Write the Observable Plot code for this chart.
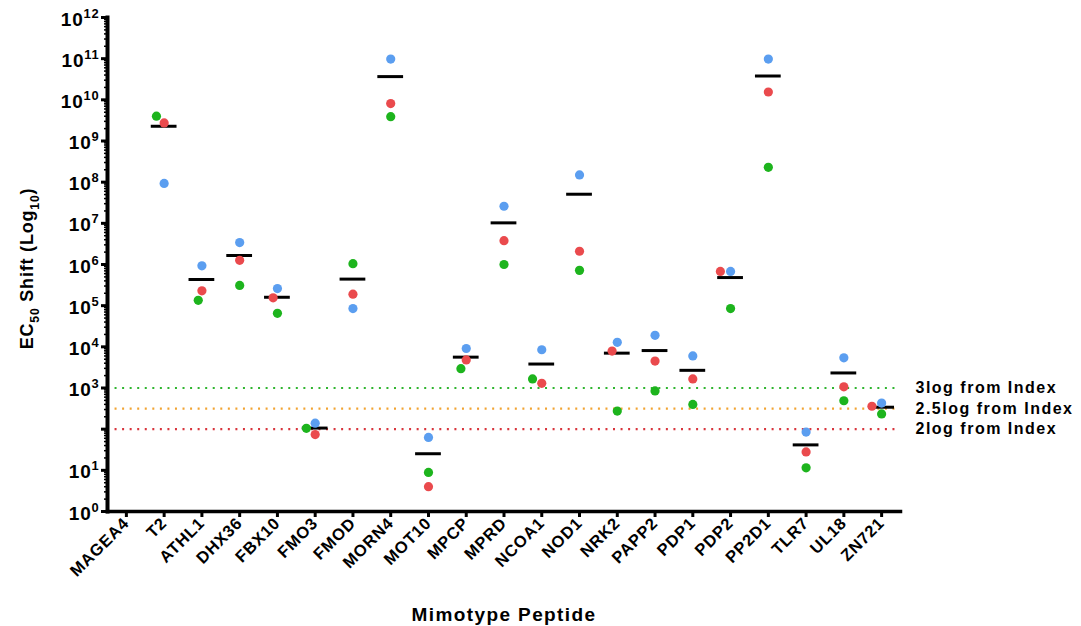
<!DOCTYPE html>
<html><head><meta charset="utf-8">
<script src="https://cdn.jsdelivr.net/npm/d3@7"></script>
<script src="https://cdn.jsdelivr.net/npm/@observablehq/plot@0.6"></script>
<style>
body{margin:0;background:#fff}
#chart svg text{letter-spacing:0.8px}
</style>
</head><body><div id="chart"></div>
<script>
// ---- data ----
const peptides = ["MAGEA4","T2","ATHL1","DHX36","FBX10","FMO3","FMOD","MORN4","MOT10","MPCP","MPRD","NCOA1","NOD1","NRK2","PAPP2","PDP1","PDP2","PP2D1","TLR7","UL18","ZN721"];
const seriesNames = ["Replicate 1","Replicate 2","Replicate 3"];
const blueValues  = [null, 9.3e7, 9.3e5, 3.4e6, 2.6e5, 140, 8.5e4, 9.8e10, 63, 9100, 2.6e7, 8500, 1.5e8, 12900, 19000, 6000, 6.8e5, 9.8e10, 85, 5400, 430];
const redValues   = [null, 2.75e9, 2.3e5, 1.26e6, 1.55e5, 74, 1.9e5, 8.1e9, 4.0, 4800, 3.8e6, 1300, 2.1e6, 7900, 4500, 1660, 6.8e5, 1.55e10, 28, 1070, 360];
const greenValues = [null, 4.0e9, 1.35e5, 3.1e5, 6.5e4, 105, 1.05e6, 3.9e9, 8.9, 2950, 1.0e6, 1660, 7.2e5, 275, 850, 400, 8.5e4, 2.3e8, 11.5, 490, 234];
const thresholdLogs = [3, 2.5, 2];
const thresholdLabels = ["3log from Index", "2.5log from Index", "2log from Index"];
const yMajorTicks = [1, 1e1, 1e2, 1e3, 1e4, 1e5, 1e6, 1e7, 1e8, 1e9, 1e10, 1e11, 1e12];
const yTickLabels = [1, 1e1, 1e3, 1e4, 1e5, 1e6, 1e7, 1e8, 1e9, 1e10, 1e11, 1e12];
const xTitle = "Mimotype Peptide";
const yTitle = "EC_{50} Shift (Log_{10})";

// ---- tables built from the arrays ----
const rows = peptides.flatMap((p, i) => [
  {peptide: p, series: seriesNames[0], value: blueValues[i]},
  {peptide: p, series: seriesNames[1], value: redValues[i]},
  {peptide: p, series: seriesNames[2], value: greenValues[i]}
]).filter(d => d.value != null);
const thresholds = thresholdLogs.map((l, i) => ({log: l, label: thresholdLabels[i]}));
const yMinorTicks = d3.range(0, 12).flatMap(e => d3.range(2, 10).map(k => k * 10 ** e));

// ---- styles / layout ----
const W = 1081, H = 626, ML = 107, MR = 181, MT = 17, MB = 115;
const dotColors = ["#5b9ef0", "#ea4a4d", "#1db41d"];
const thresholdColors = ["#2fb52f", "#f2a432", "#d8343c"];
const period = (W - ML - MR) / peptides.length / 5;   // keeps the dotted pattern continuous across facets
const dotted = `2 ${period - 2}`;
const noText = () => "";

const chart = Plot.plot({
  width: W,
  height: H,
  marginLeft: ML,
  marginRight: MR,
  marginTop: MT,
  marginBottom: MB,
  style: {fontFamily: "'Liberation Sans', Arial, sans-serif", fontWeight: "bold", color: "black", background: "white"},
  fx: {domain: peptides, padding: 0, round: false, label: null},
  y: {type: "log", domain: [1, 1e12], label: null},
  color: {domain: seriesNames, range: dotColors},
  marks: [
    // keeps every category column (even one without points) part of the layout
    Plot.dot(peptides, {fx: d => d, frameAnchor: "middle", r: 0, fill: "none"}),
    // threshold lines
    ...thresholds.map((t, i) => Plot.ruleY([t], {facet: false, y: d => 10 ** d.log, stroke: thresholdColors[i], strokeWidth: 2.2, strokeDasharray: dotted})),
    Plot.text(thresholds, {facet: false, facetAnchor: "right", y: d => 10 ** d.log, text: "label", frameAnchor: "right", textAnchor: "start", dx: 15, fontSize: 16, fill: "black"}),
    // axes
    Plot.axisY(yMinorTicks, {facetAnchor: "left", tickSize: 3, strokeWidth: 1.5, tickFormat: noText, label: null}),
    Plot.axisY(yMajorTicks, {facetAnchor: "left", tickSize: 6, strokeWidth: 3, tickFormat: noText, label: null}),
    Plot.axisY(yTickLabels, {facetAnchor: "left", tickSize: 0, tickPadding: 8, fontSize: 19, dy: 2, label: null, tickFormat: d => `10^{${Math.round(Math.log10(d))}}`}),
    Plot.axisFx({anchor: "bottom", tickSize: 6, strokeWidth: 3, tickRotate: -45, fontSize: 16.5, tickPadding: 3, label: null}),
    Plot.frame({facet: "super", anchor: "bottom", strokeWidth: 3.5}),
    Plot.frame({facet: "super", anchor: "left", strokeWidth: 4}),
    // titles
    Plot.text([xTitle], {facet: "super", frameAnchor: "bottom", dy: 109, fontSize: 19, fill: "black"}),
    Plot.text([yTitle], {facet: "super", frameAnchor: "left", textAnchor: "middle", dx: -80, dy: 4, rotate: -90, fontSize: 18, fill: "black"}),
    // data
    Plot.tickY(rows, Plot.groupZ({y: "mean"}, {fx: "peptide", y: "value", stroke: "black", strokeWidth: 3, inset: 6})),
    Plot.dot(rows, Plot.dodgeX("middle", {fx: "peptide", y: "value", fill: "series", r: 4.6, padding: 0.5}))
  ]
});

// render ^{..} and _{..} as super/subscripts
function rich(el) {
  const s = el.textContent;
  if (!/[\^_]\{/.test(s)) return;
  const base = parseFloat(getComputedStyle(el).fontSize) || 16;
  el.textContent = "";
  const re = /([\^_])\{([^}]*)\}/g;
  let last = 0, m, shift = 0;
  const add = (txt, size, dy) => {
    const t = document.createElementNS("http://www.w3.org/2000/svg", "tspan");
    t.textContent = txt;
    if (size) t.setAttribute("font-size", size);
    if (dy) t.setAttribute("dy", dy);
    el.appendChild(t);
  };
  while ((m = re.exec(s))) {
    if (m.index > last) { add(s.slice(last, m.index), null, -shift); shift = 0; }
    const target = m[1] === "^" ? -0.42 * base : 0.3 * base;
    add(m[2], 0.68 * base, target - shift);
    shift = target;
    last = re.lastIndex;
  }
  if (last < s.length) add(s.slice(last), null, -shift);
}
document.getElementById("chart").appendChild(chart);
chart.querySelectorAll("text").forEach(rich);
// wider tracking on the titles and threshold labels, as in the reference
chart.querySelectorAll("text").forEach(t => {
  if (t.textContent === xTitle) t.style.letterSpacing = "1.4px";
  if (thresholdLabels.includes(t.textContent)) t.style.letterSpacing = "1.5px";
});
</script>
</body></html>
